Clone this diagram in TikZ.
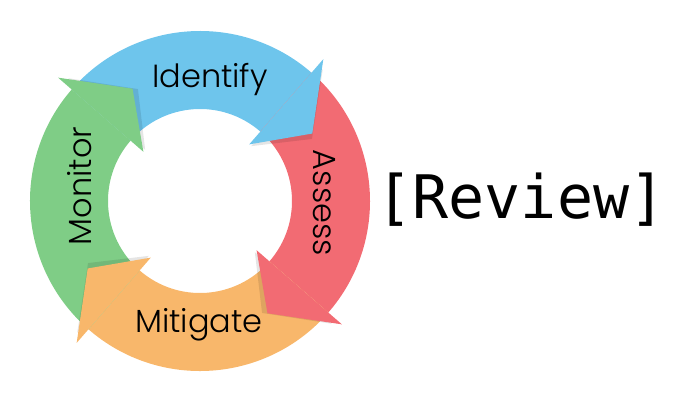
\documentclass[tikz,border=0pt]{standalone}
\usepackage{fontspec}
\newfontfamily\stagefont{Poppins Light}
\setmonofont{DejaVu Sans Mono}
\definecolor{identifyblue}{HTML}{6EC5EC}
\definecolor{assessred}{HTML}{F26B73}
\definecolor{mitigateorange}{HTML}{F8B76B}
\definecolor{monitorgreen}{HTML}{7FCD86}

\begin{document}
\begin{tikzpicture}[stage label/.style={font=\stagefont\fontsize{32}{38}\selectfont,
                    anchor=base,inner sep=0pt},
                    head shadow/.style={black,opacity=.10}]
  \useasboundingbox (-200pt,-199pt) rectangle (482pt,201pt);
  % ring segments
  \fill[identifyblue] (139:170pt) arc[start angle=139,end angle=49,radius=170pt]
    -- (49:92pt) arc[start angle=49,end angle=139,radius=92pt] -- cycle;
  \fill[assessred] (49:170pt) arc[start angle=49,end angle=-41,radius=170pt]
    -- (-41:92pt) arc[start angle=-41,end angle=49,radius=92pt] -- cycle;
  \fill[mitigateorange] (-41:170pt) arc[start angle=-41,end angle=-131,radius=170pt]
    -- (-131:92pt) arc[start angle=-131,end angle=-41,radius=92pt] -- cycle;
  \fill[monitorgreen] (-131:170pt) arc[start angle=-131,end angle=-221,radius=170pt]
    -- (-221:92pt) arc[start angle=-221,end angle=-131,radius=92pt] -- cycle;
  % arrow heads
  \fill[head shadow] (47:75pt) -- (47:180pt) -- (29:128pt) -- cycle;
  \fill[head shadow] (-43:75pt) -- (-43:180pt) -- (-61:128pt) -- cycle;
  \fill[head shadow] (-133:75pt) -- (-133:180pt) -- (-151:128pt) -- cycle;
  \fill[head shadow] (137:75pt) -- (137:180pt) -- (119:128pt) -- cycle;
  \fill[identifyblue] (49:75pt) -- (49:188pt) -- (31:131pt) -- cycle;
  \fill[assessred] (-41:75pt) -- (-41:188pt) -- (-59:131pt) -- cycle;
  \fill[mitigateorange] (-131:75pt) -- (-131:188pt) -- (-149:131pt) -- cycle;
  \fill[monitorgreen] (139:75pt) -- (139:188pt) -- (121:131pt) -- cycle;
  % labels
  \node[stage label] (identify) at (10pt,114pt) {Identify};
  \node[stage label,rotate=-90] (assess) at (113pt,-2pt) {Assess};
  \node[stage label] (mitigate) at (-1pt,-131pt) {Mitigate};
  \node[stage label,rotate=90] (monitor) at (-108pt,15pt) {Monitor};
  \node[font=\ttfamily\fontsize{60}{66}\selectfont,anchor=base,inner sep=0pt]
    (review) at (321pt,-17pt) {[Review]};
\end{tikzpicture}
\end{document}
